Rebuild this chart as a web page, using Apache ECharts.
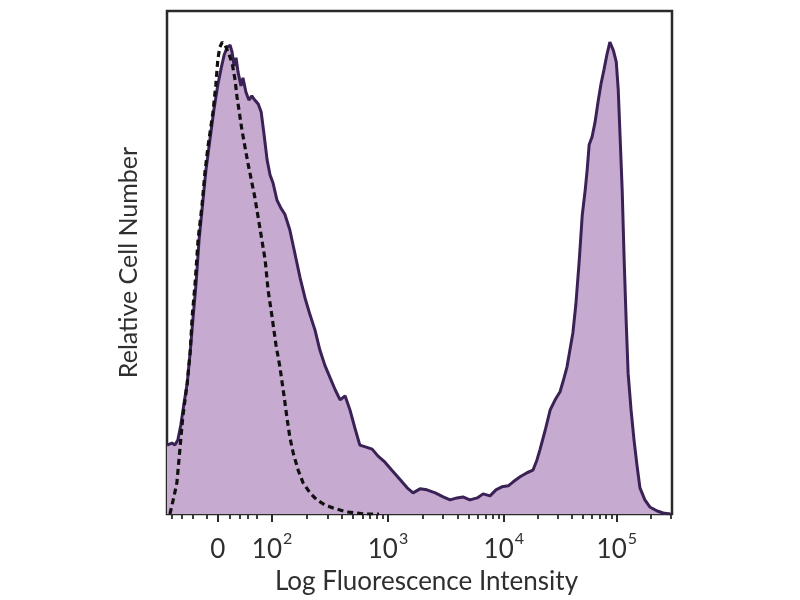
<!DOCTYPE html>
<html><head><meta charset="utf-8">
<script src="https://cdn.jsdelivr.net/npm/echarts@6/dist/echarts.min.js"></script>
<style>html,body{margin:0;padding:0;background:#fff}#c{width:800px;height:600px}</style>
</head><body><div id="c"></div>
<script>
// x: display channel (0-1024, logicle-like scale); y: relative cell number (% of frame height)
const stainedX = [0,10,16,22,28,34,41,47,53,59,65,73,79,87,95,103,110,116,122,128,132,136,140,144,150,154,160,166,172,178,185,191,197,203,209,215,223,231,239,249,260,270,280,290,300,310,320,331,341,351,361,371,381,391,404,416,428,442,456,473,487,499,513,527,544,560,574,588,600,614,629,641,655,667,679,692,702,716,730,742,750,756,767,777,787,797,805,811,817,823,829,836,842,848,852,856,862,868,874,880,886,892,898,905,911,915,919,923,927,931,935,941,947,953,959,969,979,994,1006,1020];
const stainedY = [13.7,14.1,13.7,14.7,17.7,21.7,26.0,32.2,39.2,45.9,54.5,62.4,68.4,74.4,80.3,85.3,88.7,91.3,92.8,93.2,91.8,89.1,90.7,87.9,85.1,86.7,83.9,82.3,83.1,82.3,81.5,79.9,75.3,70.4,67.4,65.8,62.4,60.8,59.6,56.5,51.5,46.9,42.9,39.6,36.6,32.6,29.6,27.0,24.7,22.7,23.5,20.7,17.1,13.7,13.3,12.9,11.5,10.3,8.7,6.8,5.2,4.2,5.0,4.8,4.2,3.4,2.8,3.2,3.4,2.8,3.2,4.0,3.6,4.8,5.4,5.6,6.4,7.4,8.2,8.7,10.7,12.7,16.7,20.7,22.7,24.3,27.0,29.2,32.6,36.0,41.6,50.5,59.4,64.4,68.4,73.4,75.0,77.9,81.9,85.5,88.3,91.3,93.8,92.2,89.9,84.3,74.4,64.4,50.5,38.6,28.0,20.7,14.7,9.7,5.2,2.8,1.4,0.6,0.2,0];
const controlX = [6,14,20,26,32,41,47,51,57,63,71,77,83,93,99,103,107,112,118,124,132,138,142,152,164,178,189,199,205,213,221,229,237,243,249,256,266,276,290,304,320,337,365,402,430];
const controlY = [0,3.4,6.2,12.7,19.3,26.0,32.2,39.2,45.9,54.5,61.4,68.0,73.0,79.7,85.3,90.3,92.8,93.8,93.2,91.8,89.7,86.3,82.9,76.3,69.8,63.0,56.5,50.5,44.5,39.2,33.6,29.2,23.7,19.3,15.3,12.1,8.7,6.2,4.2,2.8,1.8,1.2,0.4,0,0];
const tickValues = [103, 213, 448, 683, 912];
const tickLabels = ['0', '10|2', '10|3', '10|4', '10|5'];
const linearMinorTicks = [10, 30, 53, 81, 128, 148, 164, 183];
const xTitle = 'Log Fluorescence Intensity';
const yTitle = 'Relative Cell Number';

const minorTicks = linearMinorTicks.slice();
for (let i = 1; i < tickValues.length; i++) {
  const start = tickValues[i];
  const w = i < tickValues.length - 1 ? tickValues[i + 1] - start : tickValues[i] - tickValues[i - 1];
  for (let k = 2; k <= 9; k++) {
    const v = start + w * Math.log10(k);
    if (v < 1024) minorTicks.push(Math.round(v));
  }
}
const pairs = (xs, ys) => xs.map((x, i) => [x, ys[i]]);
const fontFam = 'Lato, "Open Sans", sans-serif';
const textColor = '#2f2f2f';

const chart = echarts.init(document.getElementById('c'), null, {renderer: 'canvas'});
chart.setOption({
  animation: false,
  backgroundColor: '#fff',
  grid: {left: 167, top: 11, width: 505, height: 503, show: true, borderColor: '#2a2a2a', borderWidth: 2.5, backgroundColor: 'transparent'},
  xAxis: [{
    type: 'value', min: 0, max: 1024, gridIndex: 0,
    name: xTitle, nameLocation: 'middle', nameGap: 55,
    nameTextStyle: {fontFamily: fontFam, fontSize: 26, color: textColor, padding: [0, 0, 0, 14]},
    axisLine: {show: false},
    splitLine: {show: false},
    axisTick: {show: true, inside: false, length: 8, customValues: tickValues, lineStyle: {color: '#2a2a2a', width: 2}},
    axisLabel: {
      show: true, margin: 17, customValues: tickValues,
      formatter: function (v) {
        const idx = tickValues.indexOf(v);
        if (idx < 0) return '';
        const parts = tickLabels[idx].split('|');
        return parts.length > 1 ? '{b|' + parts[0] + '}{s|' + parts[1] + '}' : '{b|' + parts[0] + '}';
      },
      rich: {
        b: {fontFamily: fontFam, fontSize: 26, color: textColor, lineHeight: 32, verticalAlign: 'bottom'},
        s: {fontFamily: fontFam, fontSize: 16, color: textColor, lineHeight: 32, verticalAlign: 'top', padding: [0, 0, 13, 1]}
      }
    }
  }, {
    type: 'value', min: 0, max: 1024, gridIndex: 0, position: 'bottom',
    axisLine: {show: false}, splitLine: {show: false}, axisLabel: {show: false},
    axisTick: {show: true, inside: false, length: 5, customValues: minorTicks, lineStyle: {color: '#2a2a2a', width: 1.8}}
  }],
  yAxis: {
    type: 'value', min: 0, max: 100,
    name: yTitle, nameLocation: 'middle', nameGap: 26,
    nameTextStyle: {fontFamily: fontFam, fontSize: 25, color: textColor},
    axisLine: {show: false}, axisTick: {show: false}, axisLabel: {show: false}, splitLine: {show: false}
  },
  series: [{
    type: 'line', xAxisIndex: 0, data: pairs(stainedX, stainedY), symbol: 'none', smooth: false,
    lineStyle: {color: '#3a2256', width: 3},
    areaStyle: {color: '#c6aacf', opacity: 1}, z: 2
  }, {
    type: 'line', xAxisIndex: 0, data: pairs(controlX, controlY), symbol: 'none', smooth: false,
    lineStyle: {color: '#111', width: 3.2, type: [6, 4]}, z: 3
  }]
});
</script></body></html>
